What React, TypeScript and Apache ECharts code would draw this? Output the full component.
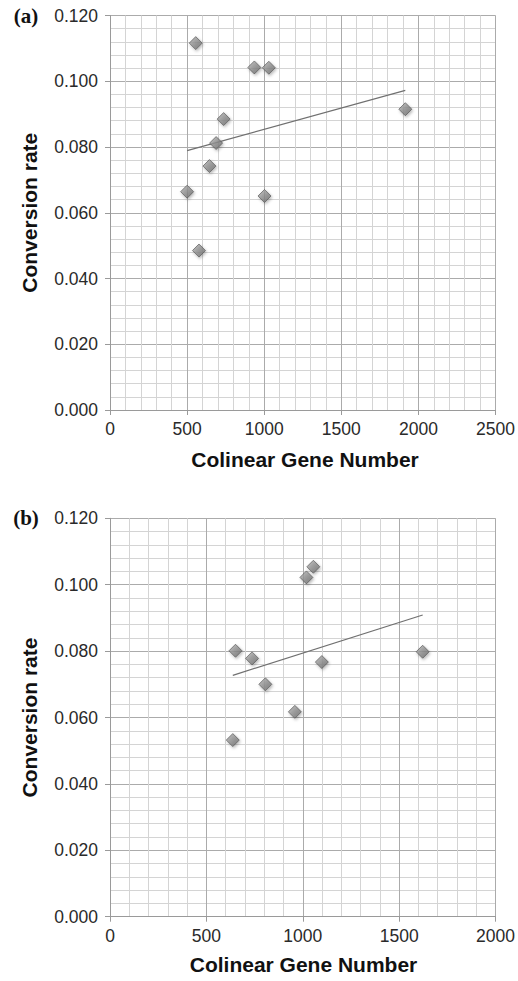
import React, { useEffect, useRef } from "react";
import * as echarts from "echarts";

// Panel (a)
const genesA = [500, 556, 577, 645, 688, 737, 936, 1002, 1030, 1915];
const ratesA = [0.0664, 0.1116, 0.0485, 0.0742, 0.0812, 0.0885, 0.1042, 0.0651, 0.1041, 0.0915];
// Panel (b)
const genesB = [637, 651, 737, 806, 959, 1019, 1055, 1099, 1622];
const ratesB = [0.0532, 0.0801, 0.0778, 0.07, 0.0617, 0.1022, 0.1054, 0.0767, 0.0798];

const xMaxA = 2500;
const xMaxB = 2000;
const xInterval = 500;
const yMax = 0.12;
const yInterval = 0.02;
const panelLabels = ["(a)", "(b)"];
const xTitle = "Colinear Gene Number";
const yTitle = "Conversion rate";

function trend(xs: number[], ys: number[]) {
  const n = xs.length;
  const mx = xs.reduce((a, b) => a + b, 0) / n;
  const my = ys.reduce((a, b) => a + b, 0) / n;
  let sxy = 0;
  let sxx = 0;
  for (let i = 0; i < n; i++) {
    sxy += (xs[i] - mx) * (ys[i] - my);
    sxx += (xs[i] - mx) * (xs[i] - mx);
  }
  const slope = sxy / sxx;
  const icpt = my - slope * mx;
  const x0 = Math.min(...xs);
  const x1 = Math.max(...xs);
  return [
    [x0, icpt + slope * x0],
    [x1, icpt + slope * x1],
  ];
}

const FONT = "Liberation Sans, Arial, sans-serif";

export default function App() {
  const ref = useRef<HTMLDivElement>(null);
  useEffect(() => {
    if (!ref.current) return;
    const chart = echarts.init(ref.current, undefined, { renderer: "svg" });

    const grids = [
      { left: 110, top: 15.5, width: 390, height: 394.5 },
      { left: 110, top: 518.3, width: 387, height: 398.4 },
    ];

    const mkX = (gi: number, max: number) => ({
      type: "value",
      gridIndex: gi,
      min: 0,
      max,
      interval: xInterval,
      axisLine: { show: true, onZero: false, lineStyle: { color: "#9a9a9a", width: 1 } },
      axisTick: { show: true, length: 5, lineStyle: { color: "#9a9a9a" } },
      axisLabel: {
        fontSize: 17.5,
        color: "#2a2a2a",
        margin: 10,
        fontFamily: FONT,
        formatter: (v: number) => String(v),
      },
      splitLine: { show: true, lineStyle: { color: "#ababab", width: 1 } },
      minorTick: { show: false, splitNumber: 5 },
      minorSplitLine: { show: true, lineStyle: { color: "#d4d4d4", width: 1 } },
    });
    const mkY = (gi: number) => ({
      type: "value",
      gridIndex: gi,
      min: 0,
      max: yMax,
      interval: yInterval,
      axisLine: { show: true, onZero: false, lineStyle: { color: "#9a9a9a", width: 1 } },
      axisTick: { show: true, length: 5, lineStyle: { color: "#9a9a9a" } },
      axisLabel: {
        fontSize: 17.5,
        color: "#2a2a2a",
        margin: 12,
        fontFamily: FONT,
        formatter: (v: number) => v.toFixed(3),
      },
      splitLine: { show: true, lineStyle: { color: "#ababab", width: 1 } },
      minorTick: { show: false, splitNumber: 5 },
      minorSplitLine: { show: true, lineStyle: { color: "#d4d4d4", width: 1 } },
    });

    const markerStyle = {
      color: new echarts.graphic.LinearGradient(0, 0, 1, 1, [
        { offset: 0, color: "#b4b4b4" },
        { offset: 1, color: "#666666" },
      ]),
      borderColor: "#4f4f4f",
      borderWidth: 0.8,
      shadowBlur: 3,
      shadowColor: "rgba(0,0,0,0.35)",
      shadowOffsetX: 1,
      shadowOffsetY: 1.5,
    };

    const scatter = (gi: number, xs: number[], ys: number[]) => ({
      type: "scatter",
      xAxisIndex: gi,
      yAxisIndex: gi,
      symbol: "diamond",
      symbolSize: 13,
      itemStyle: markerStyle,
      data: xs.map((x, i) => [x, ys[i]]),
      z: 3,
    });
    const trendLine = (gi: number, xs: number[], ys: number[]) => ({
      type: "line",
      xAxisIndex: gi,
      yAxisIndex: gi,
      data: trend(xs, ys),
      symbol: "none",
      lineStyle: { color: "#707070", width: 1.2 },
      z: 2,
    });

    const textEl = (x: number, y: number, text: string, font: string, rot = 0) => ({
      type: "text",
      x,
      y,
      rotation: rot,
      style: {
        text,
        font,
        fill: "#111",
        textAlign: "center",
        textVerticalAlign: "middle",
      },
    });

    chart.setOption({
      animation: false,
      backgroundColor: "#ffffff",
      grid: grids,
      xAxis: [mkX(0, xMaxA), mkX(1, xMaxB)],
      yAxis: [mkY(0), mkY(1)],
      series: [
        trendLine(0, genesA, ratesA),
        scatter(0, genesA, ratesA),
        trendLine(1, genesB, ratesB),
        scatter(1, genesB, ratesB),
      ],
      graphic: [
        textEl(26, 15.5, panelLabels[0], "bold 21px 'Liberation Serif', 'Times New Roman', serif"),
        textEl(26, 518.3, panelLabels[1], "bold 21px 'Liberation Serif', 'Times New Roman', serif"),
        textEl(305, 459, xTitle, "bold 21px 'Liberation Sans', Arial, sans-serif"),
        textEl(303.5, 964, xTitle, "bold 21px 'Liberation Sans', Arial, sans-serif"),
        textEl(29, 212.7, yTitle, "bold 21px 'Liberation Sans', Arial, sans-serif", Math.PI / 2),
        textEl(29, 717.5, yTitle, "bold 21px 'Liberation Sans', Arial, sans-serif", Math.PI / 2),
      ],
    });
    return () => chart.dispose();
  }, []);
  return (
    <div
      ref={ref}
      style={{ position: "absolute", left: 0, top: 0, width: 518, height: 981 }}
    />
  );
}
